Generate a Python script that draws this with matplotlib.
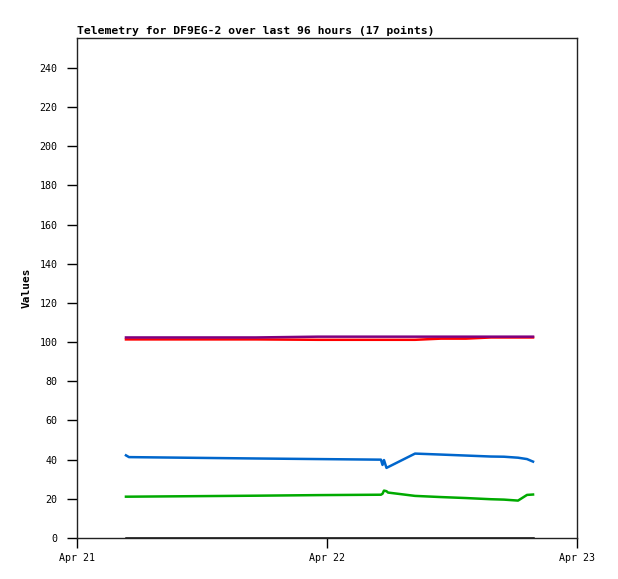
import matplotlib
matplotlib.use('Agg')
import matplotlib.pyplot as plt
import matplotlib.dates as mdates
import pandas as pd

# hours since Apr 21 00:00 for the 17 telemetry points
hours = [4.70, 4.99, 17.18, 23.14, 29.18, 29.33, 29.47, 29.71, 29.86,
         32.45, 34.94, 37.34, 39.74, 40.99, 42.34, 43.20, 43.78]

purple = [102.4, 102.4, 102.4, 102.8, 102.8, 102.8, 102.8, 102.8, 102.8,
          102.8, 102.8, 102.8, 102.8, 102.8, 102.8, 102.8, 102.8]
red = [101.4, 101.4, 101.4, 101.2, 101.2, 101.2, 101.2, 101.2, 101.2,
       101.2, 101.8, 101.8, 102.4, 102.4, 102.4, 102.4, 102.4]
blue = [42.2, 41.3, 40.6, 40.3, 40.0, 37.3, 39.8, 35.8, 36.2,
        43.1, 42.6, 42.1, 41.6, 41.5, 41.0, 40.3, 39.0]
green = [21.1, 21.1, 21.6, 21.9, 22.1, 22.6, 24.2, 23.9, 23.2,
         21.5, 20.9, 20.4, 19.8, 19.6, 19.1, 22.0, 22.2]
black = [0] * 17

start = pd.Timestamp('2024-04-21')
times = [start + pd.Timedelta(hours=h) for h in hours]

plt.rcParams['font.family'] = 'DejaVu Sans Mono'

fig = plt.figure(figsize=(6.18, 5.79), dpi=100)
ax = fig.add_axes([77 / 618, 41 / 579, 500 / 618, 500 / 579])

ax.plot(times, black, color='black', lw=1.8)
ax.plot(times, green, color='#00aa00', lw=1.8)
ax.plot(times, blue, color='#0066cc', lw=1.8)
ax.plot(times, red, color='#ff0000', lw=1.8)
ax.plot(times, purple, color='#7f007f', lw=1.8)

ax.set_xlim(start, start + pd.Timedelta(days=2))
ax.set_ylim(0, 255.3)
ax.set_yticks(range(0, 241, 20))
ax.set_xticks([start, start + pd.Timedelta(days=1), start + pd.Timedelta(days=2)])
ax.xaxis.set_major_formatter(mdates.DateFormatter('%b %d'))

ax.tick_params(axis='both', direction='out', length=7, width=1,
               labelsize=7.2)
ax.tick_params(axis='y', pad=7)
ax.tick_params(axis='x', pad=4)
for s in ax.spines.values():
    s.set_color('#222222')
    s.set_linewidth(1)

ax.set_ylabel('Values', fontsize=8, fontweight='bold', labelpad=6)
ax.set_title('Telemetry for DF9EG-2 over last 96 hours (17 points)',
             loc='left', fontsize=8.2, fontweight='bold', pad=3)

plt.savefig('out.png', dpi=100)
